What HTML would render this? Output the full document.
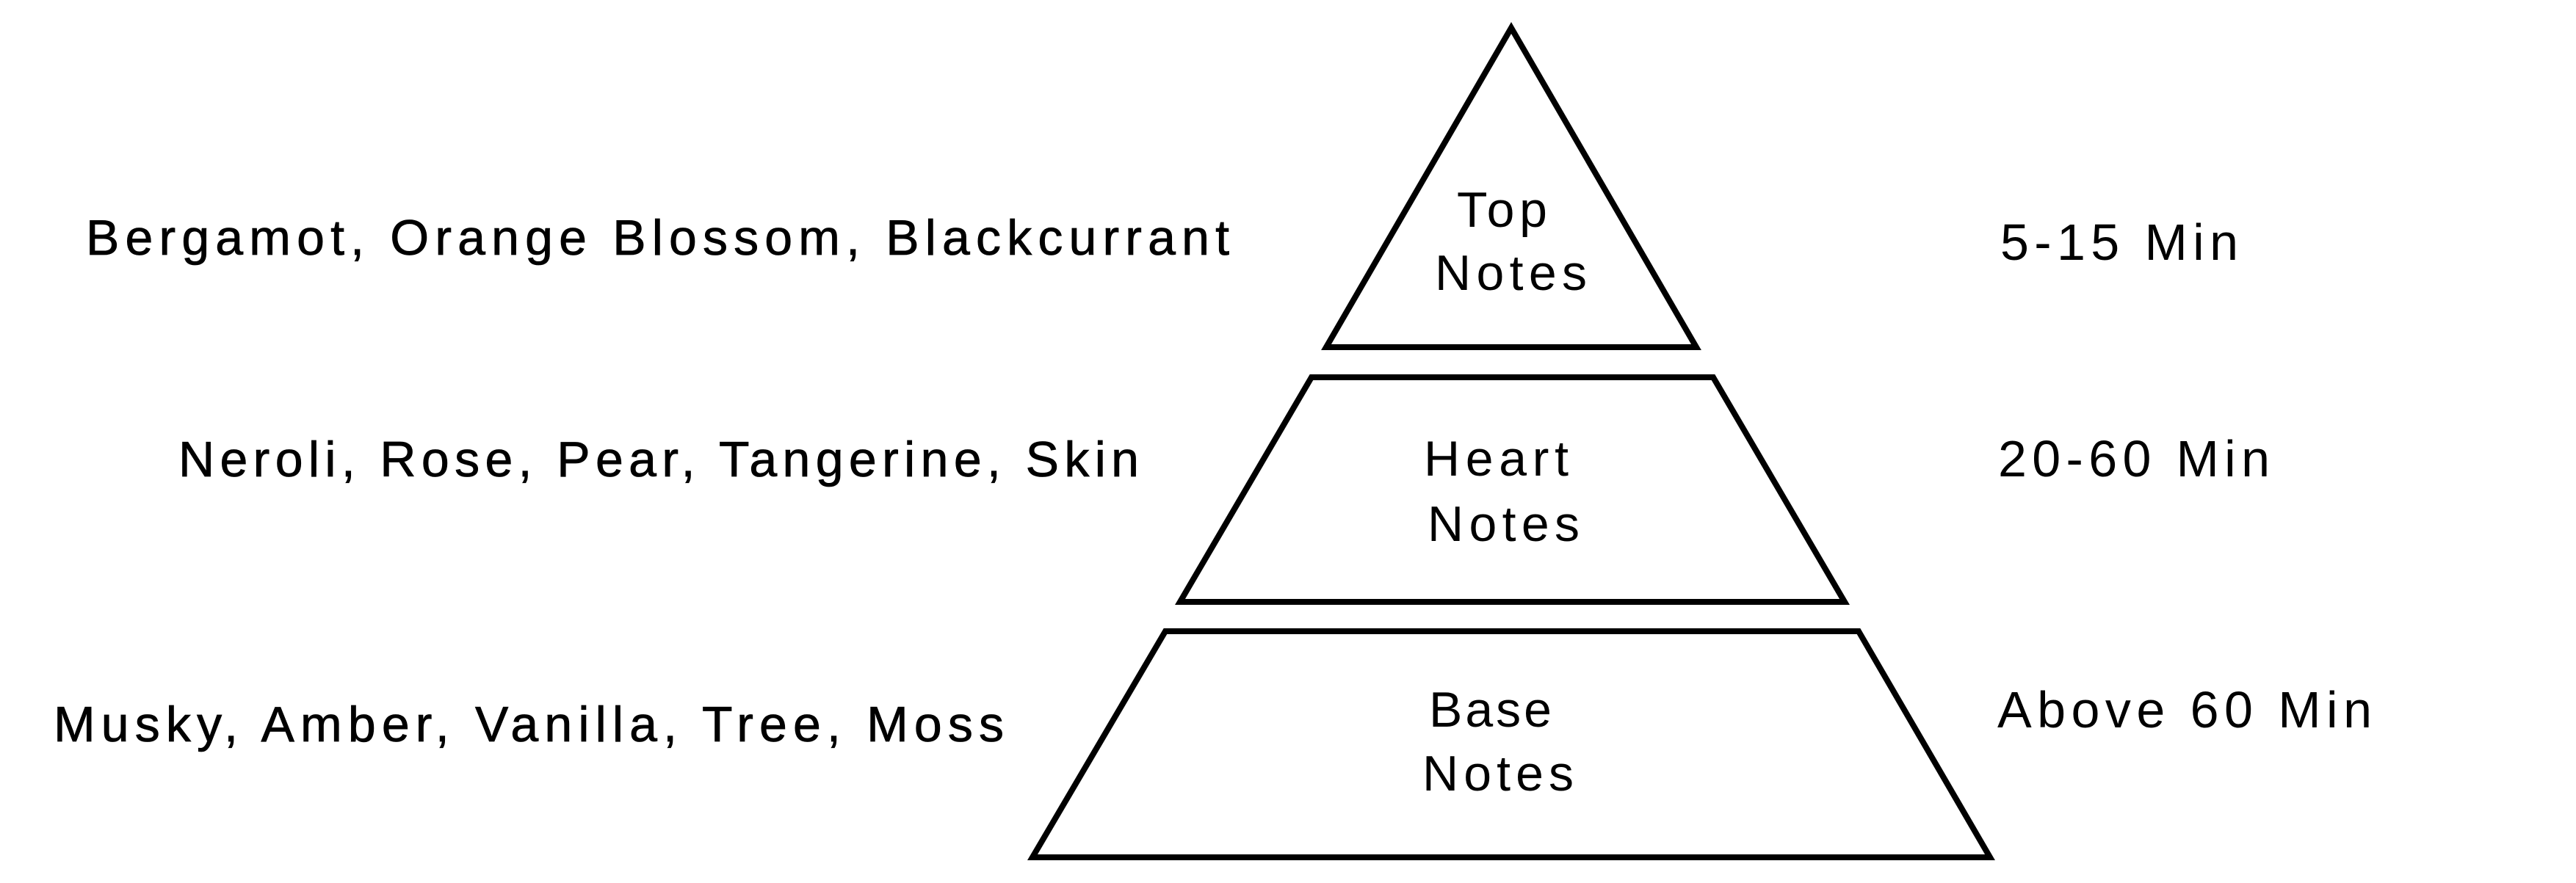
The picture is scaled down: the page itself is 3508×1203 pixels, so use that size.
<!DOCTYPE html>
<html><head><meta charset="utf-8"><style>
html,body{margin:0;padding:0;background:#fff;width:3508px;height:1203px;overflow:hidden}
svg{display:block}
text{font-family:"Liberation Sans",sans-serif;fill:#000}
</style></head><body>
<svg width="3508" height="1203" viewBox="0 0 3508 1203" xmlns="http://www.w3.org/2000/svg">
<g fill="none" stroke="#000" stroke-width="8" stroke-linejoin="miter">
<polygon points="2058,38 2310,473 1806,473"/>
<polygon points="1786,514 2333,514 2512,820 1607,820"/>
<polygon points="1587,860 2531,860 2710,1168 1406,1168"/>
</g>
<g font-size="68" stroke="#000" stroke-width="0.8">
<text x="117" y="347" textLength="1557" lengthAdjust="spacing">Bergamot, Orange Blossom, Blackcurrant</text>
<text x="243" y="649" textLength="1308" lengthAdjust="spacing">Neroli, Rose, Pear, Tangerine, Skin</text>
<text x="73" y="1010" textLength="1294" lengthAdjust="spacing">Musky, Amber, Vanilla, Tree, Moss</text>
</g>
<g font-size="68">
<text x="1984" y="309" textLength="123" lengthAdjust="spacing">Top</text>
<text x="1954" y="395" textLength="207" lengthAdjust="spacing">Notes</text>
<text x="1939" y="648" textLength="197" lengthAdjust="spacing">Heart</text>
<text x="1944" y="737" textLength="207" lengthAdjust="spacing">Notes</text>
<text x="1946" y="990" textLength="167" lengthAdjust="spacing">Base</text>
<text x="1937" y="1077" textLength="206" lengthAdjust="spacing">Notes</text>
</g>
<g font-size="70">
<text x="2724" y="354" textLength="324" lengthAdjust="spacing">5-15 Min</text>
<text x="2721" y="649" textLength="370" lengthAdjust="spacing">20-60 Min</text>
<text x="2720" y="991" textLength="510" lengthAdjust="spacing">Above 60 Min</text>
</g>
</svg>
</body></html>
